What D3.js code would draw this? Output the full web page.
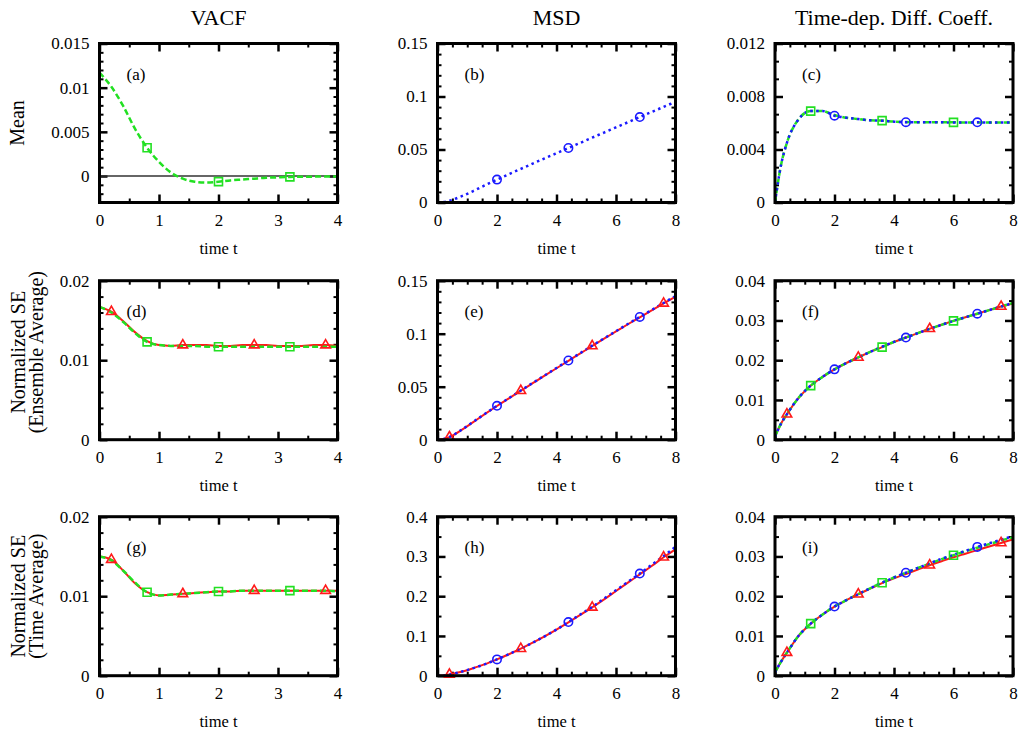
<!DOCTYPE html>
<html>
<head>
<meta charset="utf-8">
<script src="https://cdn.jsdelivr.net/npm/d3@7"></script>
<style>
  body { margin: 0; background: #fff; }
  svg text { font-family: "Liberation Serif", "Times New Roman", serif; fill: #000; }
  .axis path.domain { display: none; }
  .axis line { stroke: #000; }
</style>
</head>
<body>
<script>
// time grids
var tVacf = [0,0.2,0.4,0.6,0.8,1.0,1.2,1.4,1.6,1.8,2.0,2.2,2.4,2.6,2.8,3.0,3.2,3.4,3.6,3.8,4.0]
var tMsd = [0,0.2,0.4,0.8,1.2,1.6,2.0,2.4,2.8,3.2,3.6,4.0,4.4,4.8,5.2,5.6,6.0,6.4,6.8,7.2,7.6,8.0]

// marker positions (time values)
var triVacf = [0.2,1.4,2.6,3.8]
var sqVacf = [0.8,2.0,3.2]
var triMsd = [0.4,2.8,5.2,7.6]
var sqMsd = [1.2,3.6,6.0]
var circMsd = [2.0,4.4,6.8]

// (a) mean VACF
var vacfMeanG = [0.0117,0.0101,0.0079,0.0053,0.0032,0.0016,0.0004,-0.0003,-0.00065,-0.00075,-0.00064,-0.0005,-0.0004,-0.0003,-0.0002,-0.00015,-0.0001,-0.00008,-0.00007,-0.00006,-0.00006]
// (b) mean MSD
var msdMeanB = [0,0.0004,0.0016,0.0058,0.0108,0.0163,0.0216,0.0267,0.0317,0.0367,0.0416,0.0465,0.0514,0.0563,0.0612,0.0660,0.0709,0.0757,0.0806,0.0854,0.0902,0.0950]
// (c) mean D(t)
var diffMeanB = [0,0.0028,0.0045,0.0063,0.0069,0.0069,0.00655,0.0064,0.0063,0.0062,0.00617,0.0061,0.00606,0.00605,0.00605,0.00605,0.00604,0.00604,0.00605,0.00604,0.00604,0.00604]
var diffMeanG = [0,0.0028,0.0045,0.0063,0.0069,0.0069,0.0066,0.0064,0.0063,0.0062,0.00618,0.0061,0.00607,0.00606,0.00605,0.00605,0.00605,0.00604,0.00604,0.00604,0.00604,0.00604]

// (d) normalized SE, ensemble average, VACF
var vacfEnsR = [0.0167,0.0161,0.0149,0.0135,0.0124,0.0119,0.0118,0.0119,0.0119,0.0119,0.0118,0.0118,0.0119,0.0119,0.0119,0.0118,0.0118,0.0118,0.0119,0.0119,0.0118]
var vacfEnsG = [0.0167,0.0160,0.0148,0.0134,0.0123,0.0119,0.0118,0.0118,0.0118,0.0117,0.0117,0.0117,0.0117,0.0117,0.0117,0.0117,0.0117,0.0117,0.0117,0.0117,0.0117]
// (e) ensemble, MSD
var msdEnsR = [0,0.0006,0.0025,0.0090,0.0166,0.0243,0.0318,0.0390,0.0462,0.0533,0.0604,0.0674,0.0744,0.0814,0.0884,0.0953,0.1021,0.1089,0.1155,0.1221,0.1286,0.1350]
var msdEnsB = [0,0.0006,0.0026,0.0092,0.0168,0.0245,0.0320,0.0392,0.0464,0.0535,0.0606,0.0677,0.0747,0.0817,0.0887,0.0956,0.1024,0.1092,0.1158,0.1224,0.1290,0.1355]
// (f) ensemble, D(t)
var diffEnsR = [0.0008,0.0040,0.0064,0.0106,0.0136,0.0158,0.0177,0.0193,0.0207,0.0221,0.0233,0.0246,0.0257,0.0268,0.0279,0.0289,0.0299,0.0308,0.0317,0.0326,0.0335,0.0343]
var diffEnsG = [0.0008,0.0040,0.0064,0.0106,0.0136,0.0158,0.0177,0.0193,0.0207,0.0221,0.0233,0.0246,0.0257,0.0268,0.0279,0.0289,0.0299,0.0308,0.0317,0.0326,0.0335,0.0344]
var diffEnsB = [0.0008,0.0040,0.0064,0.0106,0.0136,0.0158,0.0177,0.0193,0.0207,0.0221,0.0234,0.0246,0.0257,0.0268,0.0279,0.0289,0.0299,0.0308,0.0317,0.0326,0.0335,0.0344]

// (g) time average, VACF
var vacfTimeR = [0.0150,0.0146,0.0132,0.0116,0.0105,0.0101,0.0102,0.0103,0.0104,0.0105,0.0106,0.0106,0.0107,0.0107,0.0107,0.0107,0.0107,0.0107,0.0107,0.0107,0.0107]
var vacfTimeG = [0.0150,0.0145,0.0132,0.0117,0.0105,0.0101,0.0102,0.0103,0.0104,0.0105,0.0106,0.0106,0.0107,0.0107,0.0107,0.0107,0.0107,0.0107,0.0107,0.0107,0.0106]
// (h) time average, MSD
var msdTimeR = [0,0.0005,0.003,0.010,0.019,0.029,0.041,0.054,0.068,0.083,0.099,0.116,0.134,0.153,0.172,0.192,0.213,0.234,0.255,0.276,0.298,0.318]
var msdTimeB = [0,0.0005,0.003,0.010,0.019,0.029,0.041,0.054,0.068,0.083,0.099,0.116,0.135,0.154,0.173,0.194,0.215,0.236,0.257,0.279,0.301,0.324]
// (i) time average, D(t)
var diffTimeR = [0.0008,0.0035,0.0058,0.0101,0.0131,0.0154,0.0174,0.0190,0.0205,0.0219,0.0233,0.0245,0.0256,0.0267,0.0278,0.0288,0.0298,0.0307,0.0316,0.0325,0.0334,0.0343]
var diffTimeG = [0.0008,0.0035,0.0058,0.0101,0.0131,0.0154,0.0174,0.0190,0.0205,0.0220,0.0234,0.0247,0.0259,0.0271,0.0282,0.0293,0.0303,0.0313,0.0322,0.0331,0.0340,0.0348]
var diffTimeB = [0.0008,0.0035,0.0058,0.0101,0.0131,0.0154,0.0174,0.0190,0.0205,0.0220,0.0234,0.0247,0.0259,0.0271,0.0283,0.0294,0.0304,0.0314,0.0324,0.0333,0.0342,0.0351]

// labels and ticks
var colTitles = ["VACF","MSD","Time-dep. Diff. Coeff."]
var rowLabels = [["Mean"],["Normalized SE","(Ensemble Average)"],["Normalized SE","(Time Average)"]]
var xLabel = "time t"
var xTicksVacf = [0,1,2,3,4]
var xTicksMsd = [0,2,4,6,8]

var width = 1026
var height = 733
var colLeft = [99.5, 437.5, 775]
var rowTop = [43.5, 280.7, 516.7]
var pw = 238, ph = 159

var styles = {
  red:   {color:"#ff1a1a", dash:null,  w:2,   marker:"tri"},
  green: {color:"#22e022", dash:"6,3", w:2.5, marker:"sq"},
  blue:  {color:"#1a1aff", dash:"2.5,3.5", w:2.5, marker:"circ"}
}

var panels = [
  {lab:"(a)", col:0, row:0, grid:tVacf, xd:[0,4], xt:xTicksVacf, xm:0.5, yd:[-0.003,0.015], yt:[0,0.005,0.01,0.015], ym:0.001, zero:true,
   series:[{v:vacfMeanG, s:"green", m:sqVacf}]},
  {lab:"(b)", col:1, row:0, grid:tMsd, xd:[0,8], xt:xTicksMsd, xm:0.5, yd:[0,0.15], yt:[0,0.05,0.1,0.15], ym:0.01,
   series:[{v:msdMeanB, s:"blue", m:circMsd}]},
  {lab:"(c)", col:2, row:0, grid:tMsd, xd:[0,8], xt:xTicksMsd, xm:0.5, yd:[0,0.012], yt:[0,0.004,0.008,0.012], ym:0.004/3,
   series:[{v:diffMeanG, s:"green", m:sqMsd},{v:diffMeanB, s:"blue", m:circMsd}]},
  {lab:"(d)", col:0, row:1, grid:tVacf, xd:[0,4], xt:xTicksVacf, xm:0.5, yd:[0,0.02], yt:[0,0.01,0.02], ym:0.002,
   series:[{v:vacfEnsR, s:"red", m:triVacf},{v:vacfEnsG, s:"green", m:sqVacf}]},
  {lab:"(e)", col:1, row:1, grid:tMsd, xd:[0,8], xt:xTicksMsd, xm:0.5, yd:[0,0.15], yt:[0,0.05,0.1,0.15], ym:0.01,
   series:[{v:msdEnsR, s:"red", m:triMsd},{v:msdEnsB, s:"blue", m:circMsd}]},
  {lab:"(f)", col:2, row:1, grid:tMsd, xd:[0,8], xt:xTicksMsd, xm:0.5, yd:[0,0.04], yt:[0,0.01,0.02,0.03,0.04], ym:0.005,
   series:[{v:diffEnsR, s:"red", m:triMsd},{v:diffEnsG, s:"green", m:sqMsd},{v:diffEnsB, s:"blue", m:circMsd}]},
  {lab:"(g)", col:0, row:2, grid:tVacf, xd:[0,4], xt:xTicksVacf, xm:0.5, yd:[0,0.02], yt:[0,0.01,0.02], ym:0.002,
   series:[{v:vacfTimeR, s:"red", m:triVacf},{v:vacfTimeG, s:"green", m:sqVacf}]},
  {lab:"(h)", col:1, row:2, grid:tMsd, xd:[0,8], xt:xTicksMsd, xm:0.5, yd:[0,0.4], yt:[0,0.1,0.2,0.3,0.4], ym:0.05,
   series:[{v:msdTimeR, s:"red", m:triMsd},{v:msdTimeB, s:"blue", m:circMsd}]},
  {lab:"(i)", col:2, row:2, grid:tMsd, xd:[0,8], xt:xTicksMsd, xm:0.5, yd:[0,0.04], yt:[0,0.01,0.02,0.03,0.04], ym:0.005,
   series:[{v:diffTimeR, s:"red", m:triMsd},{v:diffTimeG, s:"green", m:sqMsd},{v:diffTimeB, s:"blue", m:circMsd}]}
]

var svg = d3.select("body")
            .append("svg")
            .attr("width",width)
            .attr("height",height)

var fmt = d3.format("~g")

// column titles
colTitles.forEach(function(t,i){
  svg.append("text")
     .attr("x",colLeft[i]+pw/2)
     .attr("y",25)
     .attr("text-anchor","middle")
     .style("font-size","22px")
     .text(t)
})

// row labels (rotated)
rowLabels.forEach(function(lines,r){
  var cy = rowTop[r]+ph/2 + (r==1 ? -8 : 0)
  var xs = lines.length==1 ? [24] : [25,43]
  lines.forEach(function(l,k){
    svg.append("text")
       .attr("transform","translate("+xs[k]+","+cy+") rotate(-90)")
       .attr("text-anchor","middle")
       .style("font-size","20px")
       .text(l)
  })
})

var drawPanel = function(p,idx){
  var left = colLeft[p.col], top = rowTop[p.row]
  var xScale = d3.scaleLinear().domain(p.xd).range([left,left+pw])
  var yScale = d3.scaleLinear().domain(p.yd).range([top+ph,top])

  var xMinor = d3.range(p.xd[0],p.xd[1]+1e-9,p.xm).filter(function(v){
    return p.xt.every(function(t){ return Math.abs(t-v)>1e-9 })
  })
  var yMinor = d3.range(p.yd[0],p.yd[1]+1e-9,p.ym).filter(function(v){
    return p.yt.every(function(t){ return Math.abs(t-v)>1e-9 })
  })

  var g = svg.append("g")

  // minor ticks
  g.append("g").attr("class","axis").attr("transform","translate(0,"+(top+ph)+")")
   .call(d3.axisBottom(xScale).tickValues(xMinor).tickSize(-4).tickFormat(""))
  g.append("g").attr("class","axis").attr("transform","translate(0,"+top+")")
   .call(d3.axisTop(xScale).tickValues(xMinor).tickSize(-4).tickFormat(""))
  g.append("g").attr("class","axis").attr("transform","translate("+left+",0)")
   .call(d3.axisLeft(yScale).tickValues(yMinor).tickSize(-4).tickFormat(""))
  g.append("g").attr("class","axis").attr("transform","translate("+(left+pw)+",0)")
   .call(d3.axisRight(yScale).tickValues(yMinor).tickSize(-4).tickFormat(""))
  g.selectAll(".axis line").attr("stroke-width",2)

  // major ticks
  var xb = g.append("g").attr("class","axis major").attr("transform","translate(0,"+(top+ph)+")")
   .call(d3.axisBottom(xScale).tickValues(p.xt).tickSize(-8).tickPadding(11).tickFormat(fmt))
  g.append("g").attr("class","axis major").attr("transform","translate(0,"+top+")")
   .call(d3.axisTop(xScale).tickValues(p.xt).tickSize(-8).tickFormat(""))
  var yl = g.append("g").attr("class","axis major").attr("transform","translate("+left+",0)")
   .call(d3.axisLeft(yScale).tickValues(p.yt).tickSize(-8).tickPadding(10).tickFormat(fmt))
  g.append("g").attr("class","axis major").attr("transform","translate("+(left+pw)+",0)")
   .call(d3.axisRight(yScale).tickValues(p.yt).tickSize(-8).tickFormat(""))
  g.selectAll(".major line").attr("stroke-width",2.5)
  g.selectAll(".axis text").style("font-size","17px").style("font-family","Liberation Serif, serif")

  // x label
  svg.append("text")
     .attr("x",left+pw/2)
     .attr("y",top+ph+51)
     .attr("text-anchor","middle")
     .style("font-size","16.5px")
     .text(xLabel)

  // clip
  svg.append("clipPath").attr("id","clip"+idx)
     .append("rect").attr("x",left).attr("y",top).attr("width",pw).attr("height",ph)
  var plot = svg.append("g").attr("clip-path","url(#clip"+idx+")")

  if(p.zero){
    plot.append("line")
        .attr("x1",xScale(p.xd[0])).attr("x2",xScale(p.xd[1]))
        .attr("y1",yScale(0)).attr("y2",yScale(0))
        .attr("stroke","#333").attr("stroke-width",1.5)
  }

  var line = d3.line()
               .x(function(d){ return xScale(d[0]) })
               .y(function(d){ return yScale(d[1]) })
               .curve(d3.curveMonotoneX)

  p.series.forEach(function(s){
    var st = styles[s.s]
    var pts = p.grid.map(function(t,i){ return [t,s.v[i]] })
    plot.append("path")
        .datum(pts)
        .attr("d",line)
        .attr("fill","none")
        .attr("stroke",st.color)
        .attr("stroke-width",st.w)
        .attr("stroke-dasharray",st.dash)
  })

  // markers
  p.series.forEach(function(s){
    var st = styles[s.s]
    var mpts = s.m.map(function(t){
      var i = p.grid.findIndex(function(gt){ return Math.abs(gt-t)<1e-9 })
      return [t,s.v[i]]
    })
    var mg = svg.append("g")
    if(st.marker=="circ"){
      mg.selectAll("circle").data(mpts).enter().append("circle")
        .attr("cx",function(d){ return xScale(d[0]) })
        .attr("cy",function(d){ return yScale(d[1]) })
        .attr("r",4.2)
        .attr("fill","none").attr("stroke",st.color).attr("stroke-width",1.6)
    } else {
      var sym = st.marker=="sq" ? d3.symbol(d3.symbolSquare,64) : d3.symbol(d3.symbolTriangle,40)
      mg.selectAll("path").data(mpts).enter().append("path")
        .attr("d",sym)
        .attr("transform",function(d){ return "translate("+xScale(d[0])+","+yScale(d[1])+")" })
        .attr("fill","none").attr("stroke",st.color).attr("stroke-width",1.6)
    }
  })

  // label
  svg.append("text")
     .attr("x",left+27)
     .attr("y",top+36)
     .style("font-size","17px")
     .text(p.lab)

  // frame
  svg.append("rect")
     .attr("x",left).attr("y",top).attr("width",pw).attr("height",ph)
     .attr("fill","none").attr("stroke","#000").attr("stroke-width",3)
}

panels.forEach(function(p,i){ drawPanel(p,i) })
</script>
</body>
</html>
